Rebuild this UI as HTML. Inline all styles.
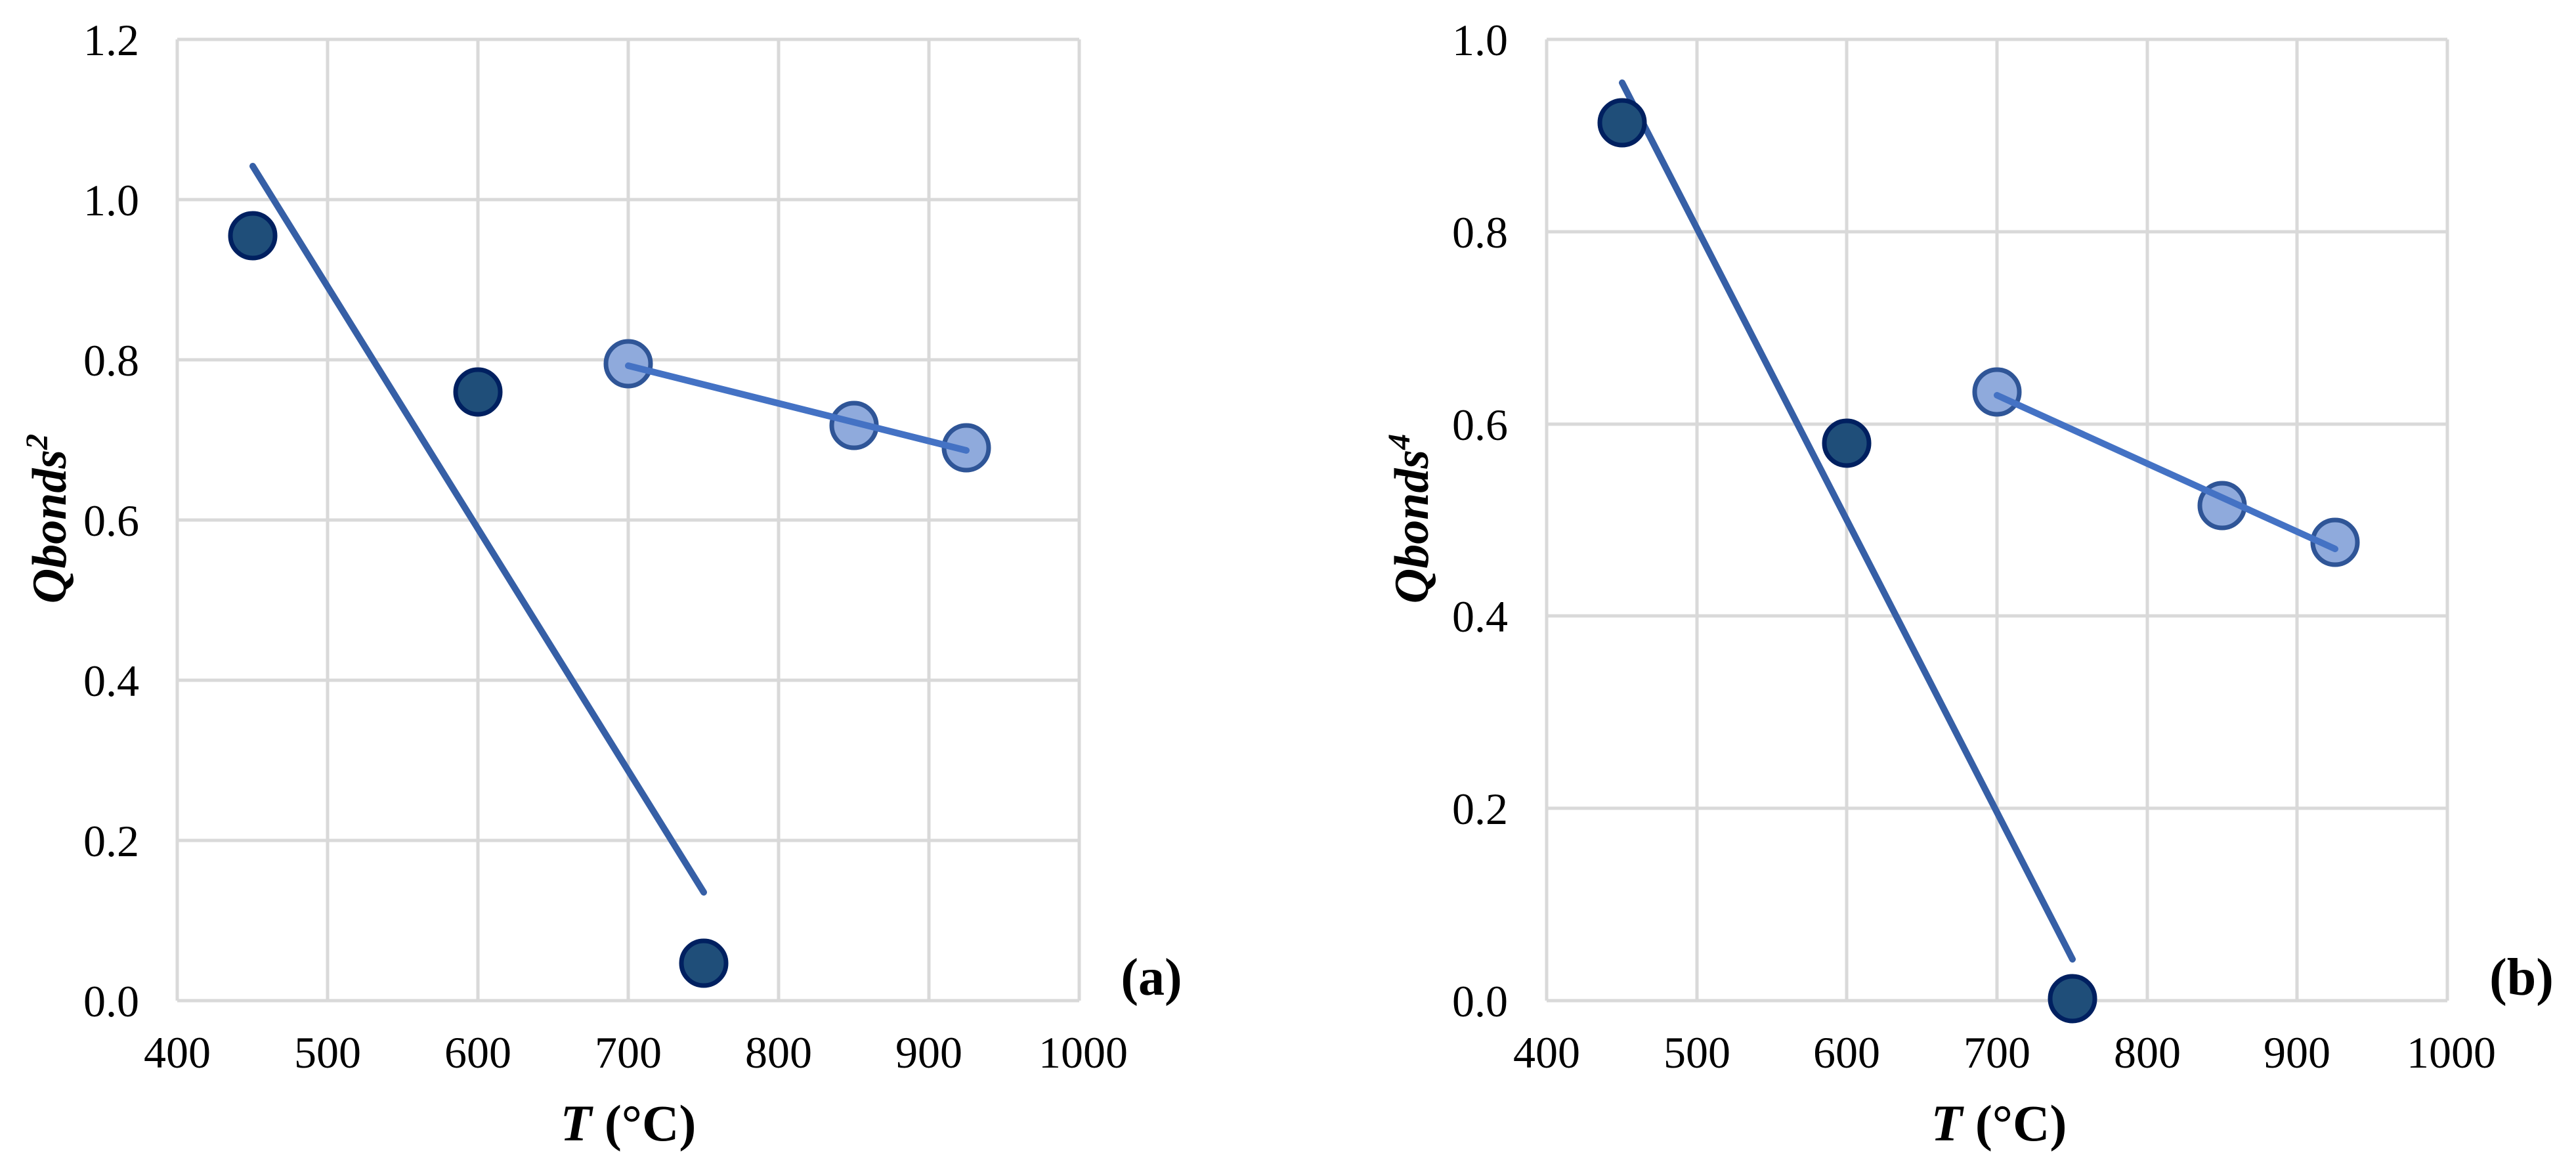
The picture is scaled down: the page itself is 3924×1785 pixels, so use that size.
<!DOCTYPE html>
<html><head><meta charset="utf-8"><style>
html,body{margin:0;padding:0;background:#fff;}
svg{display:block;}
text{font-family:"Liberation Serif",serif;fill:#000;}
</style></head><body>
<svg width="3924" height="1785" viewBox="0 0 3924 1785" xmlns="http://www.w3.org/2000/svg">
<!-- Panel A -->
<g id="a">
  <g stroke="#d9d9d9" stroke-width="5" fill="none">
    <line x1="270" y1="60" x2="270" y2="1524"/>
    <line x1="499" y1="60" x2="499" y2="1524"/>
    <line x1="728" y1="60" x2="728" y2="1524"/>
    <line x1="957" y1="60" x2="957" y2="1524"/>
    <line x1="1186" y1="60" x2="1186" y2="1524"/>
    <line x1="1415" y1="60" x2="1415" y2="1524"/>
    <line x1="1644" y1="60" x2="1644" y2="1524"/>
    <line x1="270" y1="60" x2="1644" y2="60"/>
    <line x1="270" y1="304" x2="1644" y2="304"/>
    <line x1="270" y1="548" x2="1644" y2="548"/>
    <line x1="270" y1="792" x2="1644" y2="792"/>
    <line x1="270" y1="1036" x2="1644" y2="1036"/>
    <line x1="270" y1="1280" x2="1644" y2="1280"/>
    <line x1="270" y1="1524" x2="1644" y2="1524"/>
  </g>
  <g font-size="68" text-anchor="end">
    <text x="212" y="84">1.2</text>
    <text x="212" y="328">1.0</text>
    <text x="212" y="572">0.8</text>
    <text x="212" y="816">0.6</text>
    <text x="212" y="1060">0.4</text>
    <text x="212" y="1304">0.2</text>
    <text x="212" y="1548">0.0</text>
  </g>
  <g font-size="68" text-anchor="middle">
    <text x="270" y="1626">400</text>
    <text x="499" y="1626">500</text>
    <text x="728" y="1626">600</text>
    <text x="957" y="1626">700</text>
    <text x="1186" y="1626">800</text>
    <text x="1415" y="1626">900</text>
    <text x="1650" y="1626">1000</text>
  </g>
  <text x="957" y="1737" font-size="78" font-weight="bold" text-anchor="middle"><tspan font-style="italic">T</tspan> (°C)</text>
  <text transform="translate(100,790) rotate(-90)" font-size="74" font-weight="bold" font-style="italic" text-anchor="middle">Qbonds<tspan font-size="48" dy="-28">2</tspan></text>
  <text x="1754" y="1515" font-size="80" font-weight="bold" text-anchor="middle">(a)</text>
  <line x1="385" y1="253" x2="1072" y2="1359" stroke="#365fa6" stroke-width="10" stroke-linecap="round"/>
  <line x1="957" y1="557" x2="1472" y2="686" stroke="#4472c4" stroke-width="10" stroke-linecap="round"/>
  <g fill="#1f4e79" stroke="#002060" stroke-width="7">
    <circle cx="385" cy="359" r="34"/>
    <circle cx="728" cy="597" r="34"/>
    <circle cx="1072" cy="1467" r="34"/>
  </g>
  <g fill="#8faadc" stroke="#2f5597" stroke-width="7">
    <circle cx="957" cy="554" r="34"/>
    <circle cx="1301" cy="648" r="34"/>
    <circle cx="1472" cy="682" r="34"/>
  </g>
  <line x1="957" y1="557" x2="1472" y2="686" stroke="#4472c4" stroke-width="10" stroke-linecap="round"/>
</g>
<!-- Panel B -->
<g id="b">
  <g stroke="#d9d9d9" stroke-width="5" fill="none">
    <line x1="2356" y1="60" x2="2356" y2="1524"/>
    <line x1="2585" y1="60" x2="2585" y2="1524"/>
    <line x1="2813" y1="60" x2="2813" y2="1524"/>
    <line x1="3042" y1="60" x2="3042" y2="1524"/>
    <line x1="3271" y1="60" x2="3271" y2="1524"/>
    <line x1="3499" y1="60" x2="3499" y2="1524"/>
    <line x1="3728" y1="60" x2="3728" y2="1524"/>
    <line x1="2356" y1="60" x2="3728" y2="60"/>
    <line x1="2356" y1="353" x2="3728" y2="353"/>
    <line x1="2356" y1="646" x2="3728" y2="646"/>
    <line x1="2356" y1="938" x2="3728" y2="938"/>
    <line x1="2356" y1="1231" x2="3728" y2="1231"/>
    <line x1="2356" y1="1524" x2="3728" y2="1524"/>
  </g>
  <g font-size="68" text-anchor="end">
    <text x="2297" y="84">1.0</text>
    <text x="2297" y="377">0.8</text>
    <text x="2297" y="670">0.6</text>
    <text x="2297" y="962">0.4</text>
    <text x="2297" y="1255">0.2</text>
    <text x="2297" y="1548">0.0</text>
  </g>
  <g font-size="68" text-anchor="middle">
    <text x="2356" y="1626">400</text>
    <text x="2585" y="1626">500</text>
    <text x="2813" y="1626">600</text>
    <text x="3042" y="1626">700</text>
    <text x="3271" y="1626">800</text>
    <text x="3499" y="1626">900</text>
    <text x="3734" y="1626">1000</text>
  </g>
  <text x="3045" y="1737" font-size="78" font-weight="bold" text-anchor="middle"><tspan font-style="italic">T</tspan> (°C)</text>
  <text transform="translate(2175,790) rotate(-90)" font-size="74" font-weight="bold" font-style="italic" text-anchor="middle">Qbonds<tspan font-size="48" dy="-28">4</tspan></text>
  <text x="3841" y="1515" font-size="80" font-weight="bold" text-anchor="middle">(b)</text>
  <line x1="2471" y1="126" x2="3157" y2="1461" stroke="#365fa6" stroke-width="10" stroke-linecap="round"/>
  <g fill="#1f4e79" stroke="#002060" stroke-width="7">
    <circle cx="2471" cy="187" r="34"/>
    <circle cx="2813" cy="675" r="34"/>
    <circle cx="3157" cy="1521" r="34"/>
  </g>
  <g fill="#8faadc" stroke="#2f5597" stroke-width="7">
    <circle cx="3042" cy="597" r="34"/>
    <circle cx="3385" cy="770" r="34"/>
    <circle cx="3557" cy="826" r="34"/>
  </g>
  <line x1="3042" y1="602" x2="3557" y2="836" stroke="#4472c4" stroke-width="10" stroke-linecap="round"/>
</g>
</svg>
</body></html>
